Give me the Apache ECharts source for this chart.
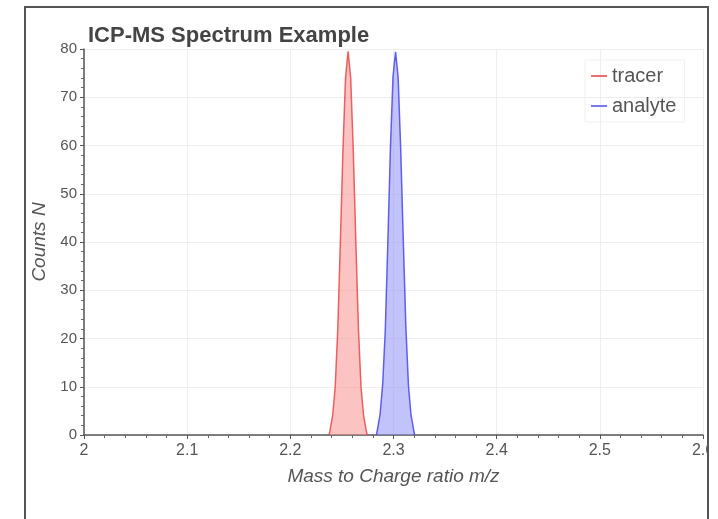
<!DOCTYPE html>
<html>
<head>
<meta charset="utf-8">
<script src="https://cdn.jsdelivr.net/npm/echarts@6/dist/echarts.min.js"></script>
<style>
html,body{margin:0;padding:0;background:#fff;}
#chart{width:718px;height:519px;}
</style>
</head>
<body>
<div id="chart"></div>
<script>
const titleText = 'ICP-MS Spectrum Example';
const xAxisName = 'Mass to Charge ratio m/z';
const yAxisName = 'Counts N';
const seriesNames = ['tracer', 'analyte'];

const tracerX = [2.2375, 2.2385, 2.241, 2.2435, 2.246, 2.2485, 2.251, 2.2535, 2.256, 2.2585, 2.261, 2.2635, 2.266, 2.2685, 2.271, 2.2735, 2.2745];
const tracerY = [0, 1, 4, 10, 22, 40, 59, 74, 79.5, 74, 59, 40, 22, 10, 4, 1, 0];

const analyteX = [2.2835, 2.2845, 2.287, 2.2895, 2.292, 2.2945, 2.297, 2.2995, 2.302, 2.3045, 2.307, 2.3095, 2.312, 2.3145, 2.317, 2.3195, 2.3205];
const analyteY = [0, 1.2, 4.3, 10.5, 21.5, 39.8, 59.3, 74.2, 79.4, 74.1, 59.1, 40.2, 22.3, 10.2, 4.1, 1.1, 0];

const xMin = 2.0, xMax = 2.6, xStep = 0.1;
const yMin = 0, yMax = 80, yStep = 10;

function pairs(xs, ys) { return xs.map((x, i) => [x, ys[i]]); }

const chart = echarts.init(document.getElementById('chart'), null, {renderer: 'canvas'});
chart.setOption({
  animation: false,
  backgroundColor: '#fff',
  textStyle: {fontFamily: 'Liberation Sans, Arial, sans-serif'},
  title: {
    text: titleText, left: 83, top: 20,
    textStyle: {fontSize: 22, fontWeight: 'bold', color: '#444', fontFamily: 'Liberation Sans, Arial, sans-serif'}
  },
  legend: {
    data: seriesNames,
    orient: 'vertical',
    left: 585, top: 60,
    itemWidth: 16, itemHeight: 2, itemGap: 10,
    icon: 'rect',
    padding: [6, 8, 6, 6],
    borderColor: '#f0f0f0', borderWidth: 1,
    textStyle: {fontSize: 20, color: '#555', padding: [0, 0, 0, 0]}
  },
  grid: {left: 84, right: 15, top: 49, bottom: 84, containLabel: false},
  xAxis: {
    type: 'value', min: xMin, max: xMax, interval: xStep,
    name: xAxisName, nameLocation: 'middle', nameGap: 32,
    nameTextStyle: {fontSize: 19, fontStyle: 'italic', color: '#555'},
    axisLine: {show: true, onZero: false, lineStyle: {color: '#555', width: 1.5}},
    axisTick: {show: true, length: 4, lineStyle: {color: '#555'}},
    minorTick: {show: true, splitNumber: 5, length: 3, lineStyle: {color: '#666'}},
    axisLabel: {fontSize: 16, color: '#555', margin: 8, formatter: v => String(+v.toFixed(1))},
    splitLine: {show: true, lineStyle: {color: '#eee', width: 1}}
  },
  yAxis: {
    type: 'value', min: yMin, max: yMax, interval: yStep,
    name: yAxisName, nameLocation: 'middle', nameGap: 28,
    nameTextStyle: {fontSize: 19, fontStyle: 'italic', color: '#555'},
    axisLine: {show: true, lineStyle: {color: '#555', width: 1.5}},
    axisTick: {show: true, length: 4, lineStyle: {color: '#555'}},
    minorTick: {show: true, splitNumber: 5, length: 3, lineStyle: {color: '#666'}},
    axisLabel: {fontSize: 15, color: '#555', margin: 7},
    splitLine: {show: true, lineStyle: {color: '#eee', width: 1}}
  },
  series: [
    {
      name: seriesNames[0], type: 'line', data: pairs(tracerX, tracerY),
      showSymbol: false, smooth: false,
      color: 'rgba(240,110,110,1)',
      lineStyle: {color: 'rgba(235,70,70,0.85)', width: 1.5},
      areaStyle: {color: 'rgba(250,140,140,0.75)'}
    },
    {
      name: seriesNames[1], type: 'line', data: pairs(analyteX, analyteY),
      showSymbol: false, smooth: false,
      color: 'rgba(120,120,240,1)',
      lineStyle: {color: 'rgba(70,70,235,0.85)', width: 1.5},
      areaStyle: {color: 'rgba(140,140,250,0.75)'}
    }
  ],
  graphic: [
    {type: 'rect', z: 100, shape: {x: 709, y: 0, width: 10, height: 519}, style: {fill: '#fff'}},
    {type: 'polyline', z: 101, shape: {points: [[25, 519], [25, 7], [708, 7], [708, 519]]}, style: {stroke: '#555', lineWidth: 2, fill: null}}
  ]
});
</script>
</body>
</html>
